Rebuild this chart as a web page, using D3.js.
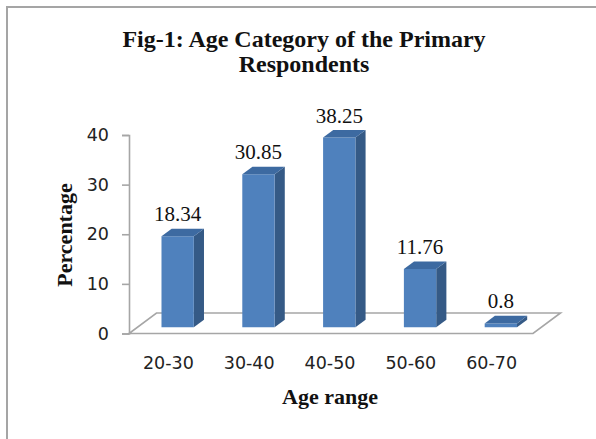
<!DOCTYPE html>
<html>
<head>
<meta charset="utf-8">
<script src="https://cdn.jsdelivr.net/npm/d3@7"></script>
<style>
  html, body { margin: 0; padding: 0; background: #fff; }
  svg { display: block; }
</style>
</head>
<body>
<svg id="chart" width="596" height="439"></svg>
<script>
const categories = ["20-30", "30-40", "40-50", "50-60", "60-70"];
const percentages = [18.34, 30.85, 38.25, 11.76, 0.8];
const yTicks = [0, 10, 20, 30, 40];
const titleLines = ["Fig-1: Age Category of the Primary", "Respondents"];
const xTitle = "Age range";
const yTitle = "Percentage";

const svg = d3.select("#chart");

// frame
svg.append("rect")
  .attr("x", 7).attr("y", 7).attr("width", 620).attr("height", 460)
  .attr("fill", "none").attr("stroke", "#a5a5a5").attr("stroke-width", 2);

// scales (front plane)
const x = d3.scaleBand().domain(categories).range([129, 533])
  .paddingInner(0.6).paddingOuter(0.3);
const y = d3.scaleLinear().domain([0, 40]).range([333.5, 135]);

// depth projection
const DX = 27.5, DY = -20.5;
const P = (px, v, z) => [px + DX * z, y(v) + DY * z];
const z0 = 0.3, z1 = 0.67;

// floor
const floorPts = [P(129, 0, 0), P(533, 0, 0), P(533, 0, 1), P(129, 0, 1)];
svg.append("polygon")
  .attr("points", floorPts.map(p => p.join(",")).join(" "))
  .attr("fill", "#fff").attr("stroke", "#a6a6a6").attr("stroke-width", 1.6);

// y axis
const yAxis = d3.axisLeft(y).tickValues(yTicks).tickSize(7).tickPadding(13);
const gy = svg.append("g").attr("transform", "translate(129,0)").call(yAxis);
gy.select(".domain").attr("stroke", "#a6a6a6").attr("stroke-width", 1.6);
gy.selectAll(".tick line").attr("stroke", "#a6a6a6").attr("stroke-width", 1.6);
gy.selectAll(".tick text")
  .attr("font-family", "'DejaVu Sans', Verdana, sans-serif")
  .attr("font-size", "17.5px").attr("fill", "#222");

// x axis labels
const xAxis = d3.axisBottom(x).tickSize(0).tickPadding(0);
const gx = svg.append("g").attr("transform", "translate(-1,357)").call(xAxis);
gx.select(".domain").remove();
gx.selectAll(".tick text")
  .attr("font-family", "'DejaVu Sans', Verdana, sans-serif")
  .attr("font-size", "17.5px").attr("fill", "#222").attr("dy", "0.71em");

// bars
const bars = svg.append("g");
percentages.forEach((v, i) => {
  const x0 = x(categories[i]), x1 = x0 + x.bandwidth();
  const front = [P(x0, 0, z0), P(x1, 0, z0), P(x1, v, z0), P(x0, v, z0)];
  const side = [P(x1, 0, z0), P(x1, 0, z1), P(x1, v, z1), P(x1, v, z0)];
  const top = [P(x0, v, z0), P(x1, v, z0), P(x1, v, z1), P(x0, v, z1)];
  const pts = a => a.map(p => p.join(",")).join(" ");
  bars.append("polygon").attr("points", pts(side)).attr("fill", "#355a86");
  bars.append("polygon").attr("points", pts(front)).attr("fill", "#4f81bd");
  bars.append("polygon").attr("points", pts(top)).attr("fill", "#3d6aa1");
  const lp = P((x0 + x1) / 2, v, z0);
  svg.append("text")
    .attr("x", lp[0]).attr("y", lp[1] - 15)
    .attr("text-anchor", "middle")
    .attr("font-family", "'Liberation Serif', 'Times New Roman', serif")
    .attr("font-size", "21px").attr("fill", "#111")
    .text(String(v));
});

// title
titleLines.forEach((t, i) => {
  svg.append("text")
    .attr("x", 304).attr("y", 47 + i * 25)
    .attr("text-anchor", "middle")
    .attr("font-family", "'Liberation Serif', 'Times New Roman', serif")
    .attr("font-weight", "bold").attr("font-size", "24px").attr("fill", "#111")
    .text(t);
});

// axis titles
svg.append("text")
  .attr("x", 330).attr("y", 404)
  .attr("text-anchor", "middle")
  .attr("font-family", "'Liberation Serif', 'Times New Roman', serif")
  .attr("font-weight", "bold").attr("font-size", "22px").attr("fill", "#111")
  .text(xTitle);

svg.append("text")
  .attr("transform", "translate(72,235) rotate(-90)")
  .attr("text-anchor", "middle")
  .attr("font-family", "'Liberation Serif', 'Times New Roman', serif")
  .attr("font-weight", "bold").attr("font-size", "22px").attr("fill", "#111")
  .text(yTitle);
</script>
</body>
</html>
